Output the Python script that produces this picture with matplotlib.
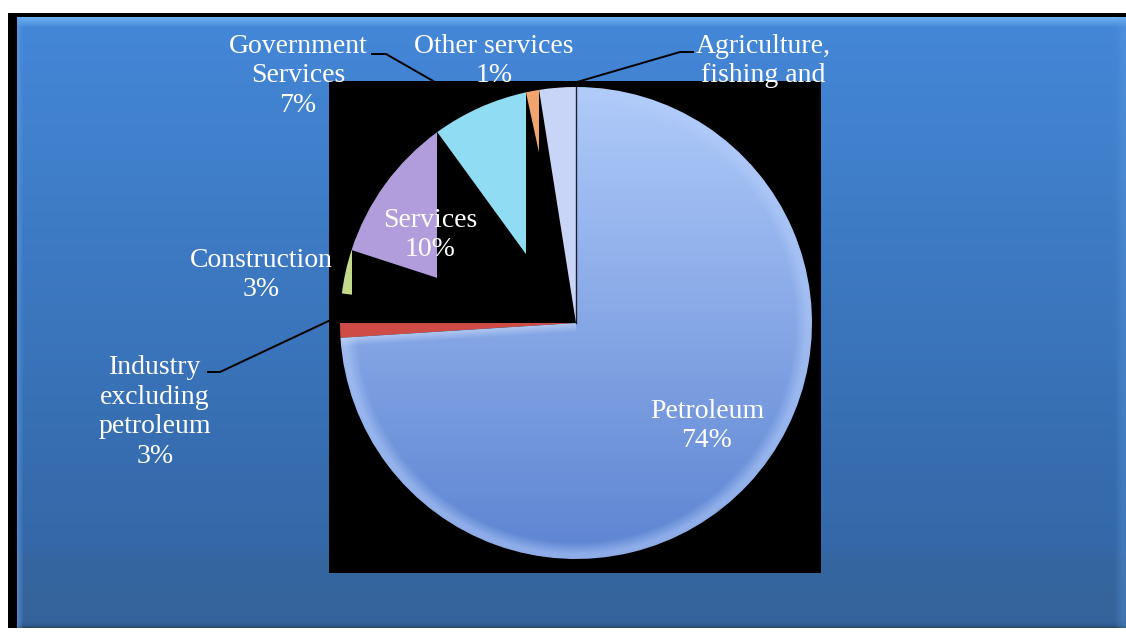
import matplotlib.pyplot as plt
import numpy as np
from matplotlib.colors import to_rgb
from matplotlib.patches import Rectangle

W, H = 1126, 635

# GDP shares by sector (%)
sectors = ["Petroleum", "Industry\nexcluding\npetroleum", "Construction", "Services",
           "Government\nServices", "Other services", "Agriculture,\nfishing and"]
shares = [74.0, 3.0, 3.0, 10.0, 6.6, 0.9, 2.5]
show_pct = [True, True, True, True, True, True, False]
colors = ["#8aaaf0", "#cf4b45", "#c5d98a", "#b29ddc", "#8fdcf3", "#f2a46e", "#c9d5f7"]

# label centres in pixel coordinates (from top-left)
label_xy = [(707, 426), (155, 412), (261, 275), (430, 235), (298, 76), (494, 61), (763, 61)]
# elbow start of leader lines, pixel coordinates
leader_start = {1: [(208, 372), (220, 372)], 4: [(372, 54), (386, 54)], 6: [(693, 52), (680, 52)]}

cx_px, cy_px, r = 576, 323, 236


def Y(y):
    return H - y


fig = plt.figure(figsize=(W / 100, H / 100), dpi=100, facecolor="white")
ax = fig.add_axes([0, 0, 1, 1])

# black frame + blue gradient panel
ax.add_patch(Rectangle((8, Y(628)), W - 8, 628 - 13, fc="black", ec="none", zorder=0))
rows = np.arange(17, 628)
cols = np.arange(17, W)
stops_y = [17, 27, 545, 560, 620, 625, 628]
stops_c = ["#6db2f4", "#4487d7", "#3468a8", "#36669f", "#35649c", "#2e5a8e", "#22444e"]
rgb = np.array([to_rgb(c) for c in stops_c])
col = np.stack([np.interp(rows, stops_y, rgb[:, k]) for k in range(3)], axis=1)
img = np.repeat(col[:, None, :], len(cols), axis=1)
bevel_l = np.clip(1 - (cols - 17) / 6, 0, 1)[None, :, None]
bevel_r = np.clip((cols - 1114) / 8, 0, 1)[None, :, None]
light = np.array(to_rgb("#5d9de3"))
img = img * (1 - 0.6 * bevel_l) + light * 0.6 * bevel_l
img = img * (1 - 0.3 * bevel_r) + light * 0.3 * bevel_r
ax.imshow(img, extent=(17, W, Y(628), Y(17)), aspect="auto", zorder=0.5, interpolation="bilinear")

# black box behind the pie
ax.add_patch(Rectangle((329, Y(573)), 821 - 329, 573 - 81, fc="black", ec="none", zorder=2))

cx, cy = cx_px, Y(cy_px)
wedges, _ = ax.pie(shares, colors=colors, startangle=90, counterclock=False,
                   center=(cx, cy), radius=r, wedgeprops=dict(linewidth=0))
for w in wedges:
    w.set_zorder(3)

# smaller slices only render partly
for i, w in enumerate(wedges[1:], start=1):
    t1, t2 = w.theta1, w.theta2
    a1, a2 = t1 % 360, t2 % 360
    if a1 < 180 < a2:
        # slice straddling 9 o'clock: only its lower half shows
        clip = Rectangle((cx - r - 5, cy - r - 5), 2 * r + 10, r + 5, transform=ax.transData)
    else:
        xs = [cx + r * np.cos(np.radians(t1)), cx + r * np.cos(np.radians(t2))]
        clip = Rectangle((min(xs), cy - r - 5), max(xs) - min(xs), 2 * r + 10,
                         transform=ax.transData)
    w.set_clip_on(True)
    w.set_clip_path(clip)

# petroleum slice shading
pw = wedges[0]
n = 500
xx, yy = np.meshgrid(np.linspace(cx - r, cx + r, n), np.linspace(cy + r, cy - r, n))
t = (cy + r - yy) / (2 * r)
top_c, bot_c = np.array(to_rgb("#b0cbfa")), np.array(to_rgb("#5d84d2"))
shade = top_c * (1 - t[..., None]) + bot_c * t[..., None]
rho = np.hypot(xx - cx, yy - cy) / r
rim = np.clip((rho - 0.93) / 0.05, 0, 1)[..., None]
rim_c = np.array(to_rgb("#b4cdfa"))
shade = shade * (1 - 0.55 * rim) + rim_c * 0.55 * rim
a = np.radians(pw.theta1)
d = np.abs((xx - cx) * np.sin(a) - (yy - cy) * np.cos(a))
edge = (np.clip(1 - d / 9, 0, 1) * ((xx - cx) * np.cos(a) + (yy - cy) * np.sin(a) > 0))[..., None]
shade = shade * (1 - 0.5 * edge) + np.array(to_rgb("#dbe6fb")) * 0.5 * edge
im = ax.imshow(shade, extent=(cx - r, cx + r, cy - r, cy + r), zorder=3.5, interpolation="bilinear")
im.set_clip_path(pw)
pw.set_facecolor("none")
b = np.radians(pw.theta2)
ax.plot([cx, cx + r * np.cos(b)], [cy, cy + r * np.sin(b)], color="#1c2030", lw=1.0, zorder=3.6)

# leader lines (run under the black box)
for i, pts in leader_start.items():
    w = wedges[i]
    m = np.radians((w.theta1 + w.theta2) / 2)
    end = (cx + r * np.cos(m), cy + r * np.sin(m))
    xs = [p[0] for p in pts] + [end[0]]
    ys = [Y(p[1]) for p in pts] + [end[1]]
    ax.plot(xs, ys, color="black", lw=1.4, zorder=1.5)

for name, v, pct, (lx, ly) in zip(sectors, shares, show_pct, label_xy):
    txt = f"{name}\n{v:.0f}%" if pct else name
    ax.text(lx, Y(ly), txt, ha="center", va="center", color="white", fontsize=20,
            family="Liberation Serif", linespacing=1.24, zorder=6)

ax.set_xlim(0, W)
ax.set_ylim(0, H)
ax.axis("off")
fig.savefig("out.png", dpi=100, facecolor="white")
